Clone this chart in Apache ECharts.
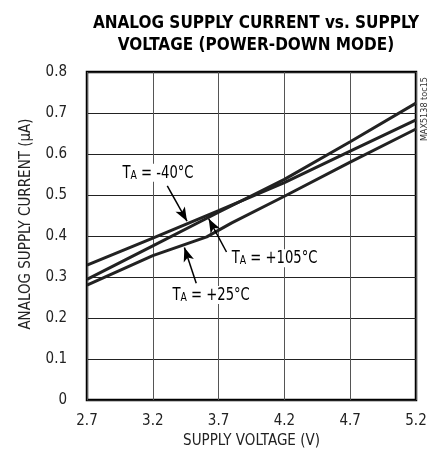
<!DOCTYPE html>
<html><head><meta charset="utf-8">
<script src="https://cdn.jsdelivr.net/npm/echarts@6/dist/echarts.min.js"></script>
<style>html,body{margin:0;padding:0;background:#fff}#c{width:435px;height:460px}</style>
</head><body><div id="c"></div>
<script>
const titleText = 'ANALOG SUPPLY CURRENT vs. SUPPLY\nVOLTAGE (POWER-DOWN MODE)';
const xTicks = [2.7, 3.2, 3.7, 4.2, 4.7, 5.2];
const yTicks = [0, 0.1, 0.2, 0.3, 0.4, 0.5, 0.6, 0.7, 0.8];
const vM40 = [[2.7,0.329],[3.2,0.395],[3.7,0.462],[4.2,0.530],[4.7,0.607],[5.2,0.683]];
const vP105 = [[2.7,0.294],[3.2,0.376],[3.7,0.458],[4.2,0.538],[4.7,0.630],[5.2,0.724]];
const vP25 = [[2.7,0.280],[3.2,0.352],[3.61,0.398],[3.8,0.432],[4.2,0.497],[4.7,0.580],[5.2,0.661]];
const annoLabels = ['-40°C', '+105°C', '+25°C'];
const annoPos = [[2.97,0.554],[3.80,0.346],[3.35,0.256]];
const arrows = [
  [[3.31,0.522],[3.46,0.436]],
  [[3.76,0.361],[3.625,0.442]],
  [[3.53,0.285],[3.44,0.372]]
];
const FONT = '"DejaVu Sans Condensed","Liberation Sans Narrow",sans-serif';
const chart = echarts.init(document.getElementById('c'));
function lineSeries(d){
  return {type:'line', data:d, symbol:'none', lineStyle:{color:'#222', width:3}, z:3, silent:true};
}
const arrowSeries = {
  type:'line', data:[], silent:true,
  markLine:{
    silent:true, symbol:['none','arrow'], symbolSize:[8,14],
    lineStyle:{color:'#000', width:1.5, type:'solid'}, label:{show:false},
    data: arrows.map(a => [{coord:a[0]},{coord:a[1]}])
  }
};
chart.setOption({
  animation:false,
  title:{text:titleText, left:251, textAlign:'center', top:8,
    textStyle:{fontFamily:FONT, fontWeight:'bold', fontSize:17, color:'#000', lineHeight:22}},
  grid:{left:87, right:19, top:72, bottom:60, show:true, borderColor:'#000', borderWidth:2.5},
  xAxis:{type:'value', min:2.7, max:5.2, interval:0.5,
    name:'SUPPLY VOLTAGE (V)', nameLocation:'middle', nameGap:34,
    nameTextStyle:{fontFamily:FONT, fontSize:15, color:'#222'},
    axisLine:{show:false}, axisTick:{show:false},
    axisLabel:{fontFamily:FONT, fontSize:15, color:'#222', margin:14, formatter:v=>v.toFixed(1)},
    splitLine:{lineStyle:{color:'#555', width:1}}},
  yAxis:{type:'value', min:0, max:0.8, interval:0.1,
    name:'ANALOG SUPPLY CURRENT (μA)', nameLocation:'middle', nameGap:53,
    nameTextStyle:{fontFamily:FONT, fontSize:15, color:'#222', padding:[0,0,0,24]},
    axisLine:{show:false}, axisTick:{show:false},
    axisLabel:{fontFamily:FONT, fontSize:15, color:'#222', margin:20, formatter:v=>v===0?'0':v.toFixed(1)},
    splitLine:{lineStyle:{color:'#222', width:1}}},
  series:[lineSeries(vM40), lineSeries(vP105), lineSeries(vP25), arrowSeries]
});
const g = [];
annoPos.forEach((p,i)=>{
  const px = chart.convertToPixel({gridIndex:0}, p);
  g.push({type:'text', x:px[0], y:px[1], z:10, scaleX:0.86, originX:0,
    style:{text:'{t|T}{s|A}{t| = '+annoLabels[i]+'}', verticalAlign:'middle', backgroundColor:'#fff',
      rich:{t:{fontFamily:FONT, fontSize:17, color:'#222', verticalAlign:'bottom'}, s:{fontFamily:FONT, fontSize:12, color:'#222', padding:[6,0,0,0]}}}});
});
const tr = chart.convertToPixel({gridIndex:0},[5.2,0.8]);
g.push({type:'text', x:tr[0]+9, y:tr[1]+5, rotation:Math.PI/2, z:10,
  style:{text:'MAX5138 toc15', fontFamily:FONT, fontSize:9, fill:'#333', align:'right', verticalAlign:'middle'}});
chart.setOption({graphic:g});
</script></body></html>
